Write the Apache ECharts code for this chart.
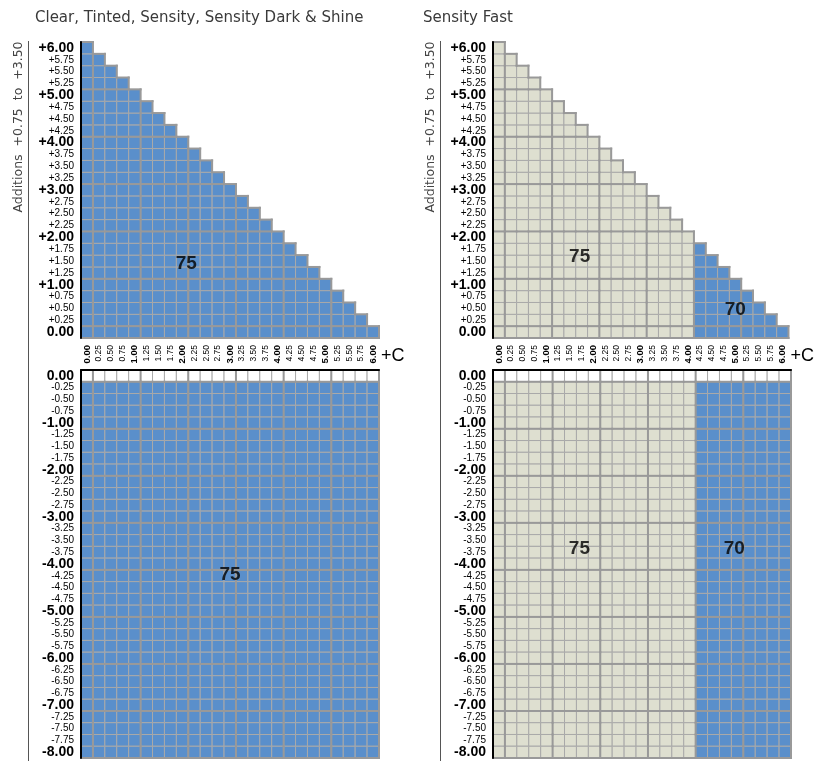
<!DOCTYPE html>
<html><head><meta charset="utf-8">
<script src="https://cdn.jsdelivr.net/npm/echarts@6/dist/echarts.min.js"></script>
<style>html,body{margin:0;padding:0;background:#fff}#c{width:815px;height:761px}</style>
</head><body><div id="c"></div>
<script>
// ---- data ----
const cylinders = ['0.00','0.25','0.50','0.75','1.00','1.25','1.50','1.75','2.00','2.25','2.50','2.75','3.00','3.25','3.50','3.75','4.00','4.25','4.50','4.75','5.00','5.25','5.50','5.75','6.00'];
const upperSpheres = ['0.00','+0.25','+0.50','+0.75','+1.00','+1.25','+1.50','+1.75','+2.00','+2.25','+2.50','+2.75','+3.00','+3.25','+3.50','+3.75','+4.00','+4.25','+4.50','+4.75','+5.00','+5.25','+5.50','+5.75','+6.00'];
const lowerSpheres = ['0.00','-0.25','-0.50','-0.75','-1.00','-1.25','-1.50','-1.75','-2.00','-2.25','-2.50','-2.75','-3.00','-3.25','-3.50','-3.75','-4.00','-4.25','-4.50','-4.75','-5.00','-5.25','-5.50','-5.75','-6.00','-6.25','-6.50','-6.75','-7.00','-7.25','-7.50','-7.75','-8.00'];
// number of cylinder cells available in each upper sphere row (staircase)
const upperRowCells = [25,24,23,22,21,20,19,18,17,16,15,14,13,12,11,10,9,8,7,6,5,4,3,2,1];
// lower rows: 0.00 row is drawn empty, all others full width
const lowerRowCells = [25,25,25,25,25,25,25,25,25,25,25,25,25,25,25,25,25,25,25,25,25,25,25,25,25,25,25,25,25,25,25,25,25];
const lowerEmptyRows = ['0.00'];
// diameter by cylinder column
const leftDiameter  = [75,75,75,75,75,75,75,75,75,75,75,75,75,75,75,75,75,75,75,75,75,75,75,75,75];
const rightDiameter = [75,75,75,75,75,75,75,75,75,75,75,75,75,75,75,75,75,70,70,70,70,70,70,70,70];
const leftTitle = 'Clear, Tinted, Sensity, Sensity Dark & Shine';
const rightTitle = 'Sensity Fast';
const additionsText = 'Additions  +0.75  to  +3.50';
// diameter annotations: [cylinder, sphere, text]
const leftUpperNotes  = [['2.00','+1.50','75']];
const leftLowerNotes  = [['3.00','-4.25','75']];
const rightUpperNotes = [['1.75','+1.75','75'],['5.00','+0.50','70']];
const rightLowerNotes = [['1.75','-3.75','75'],['5.00','-3.75','70']];

// ---- styles ----
const BLUE = '#5a8fcb', BEIGE = '#dedfd0';
const leftColors = {75: BLUE};
const rightColors = {75: BEIGE, 70: BLUE};
const LAB = '"Liberation Sans",Arial,sans-serif';
const isInt = s => /\.00$/.test(s);

function buildUpper(diam){
  const out = [];
  upperSpheres.forEach((s, j) => {
    const n = upperRowCells[j];
    for (let i = 0; i < n; i++) {
      const above = j + 1 < upperSpheres.length && i < upperRowCells[j + 1];
      const top = isInt(s) || !above ? 1 : 0;
      const right = isInt(cylinders[i]) || i === n - 1 ? 1 : 0;
      const bottom = j === 0 ? 1 : 0;
      out.push([i, j, diam[i], top, right, bottom]);
    }
  });
  return out;
}
function buildLower(diam){
  const out = [];
  lowerSpheres.forEach((s, j) => {
    const n = lowerRowCells[j];
    const empty = lowerEmptyRows.indexOf(s) >= 0;
    for (let i = 0; i < n; i++) {
      const bottom = isInt(s) || j === lowerSpheres.length - 1 ? 1 : 0;
      const right = isInt(cylinders[i]) || i === n - 1 ? 1 : 0;
      out.push([i, j, empty ? 0 : diam[i], 0, right, bottom]);
    }
  });
  return out;
}

function cellRender(colors){
  return function(params, api){
    const p = api.coord([api.value(0), api.value(1)]);
    const s = api.size([1, 1]);
    const v = api.value(2);
    return {type:'rect', shape:{x:p[0]-s[0]/2, y:p[1]-s[1]/2, width:s[0], height:s[1]},
      style:{fill: colors[v] || '#ffffff', stroke:'#a9a9a9', lineWidth:1}};
  };
}
function edgeRender(params, api){
  const p = api.coord([api.value(0), api.value(1)]);
  const s = api.size([1, 1]);
  const x0 = p[0]-s[0]/2, x1 = p[0]+s[0]/2, y0 = p[1]-s[1]/2, y1 = p[1]+s[1]/2;
  const st = {stroke:'#999999', lineWidth:2};
  const ch = [];
  if (api.value(3)) ch.push({type:'line', shape:{x1:x0-1, y1:y0, x2:x1+1, y2:y0}, style:st});
  if (api.value(4)) ch.push({type:'line', shape:{x1:x1, y1:y0-1, x2:x1, y2:y1+1}, style:st});
  if (api.value(5)) ch.push({type:'line', shape:{x1:x0-1, y1:y1, x2:x1+1, y2:y1}, style:st});
  return {type:'group', children:ch};
}

function yLabel(big, small){
  return {interval:0, margin:7, formatter: v => isInt(v) ? '{b|'+v+'}' : '{s|'+v+'}',
    rich:{b:{fontFamily:LAB, fontWeight:'bold', fontSize:big, color:'#000'},
          s:{fontFamily:LAB, fontSize:small, color:'#000'}}};
}

const grids = [], xAxes = [], yAxes = [], series = [];
function panel(left, diam, colors, upNotes, lowNotes, upOff, lowOff){
  const gU = grids.length;
  grids.push({left:left, top:42, width:298, height:296});
  grids.push({left:left, top:370, width:298, height:388});
  xAxes.push({type:'category', gridIndex:gU, data:cylinders, position:'bottom',
    axisLine:{show:false}, axisTick:{show:false}, splitLine:{show:false},
    axisLabel:{interval:0, rotate:90, margin:7,
      formatter: v => isInt(v) ? '{b|'+v+'}' : '{s|'+v+'}',
      rich:{b:{fontFamily:LAB, fontWeight:'bold', fontSize:9.5, color:'#000'},
            s:{fontFamily:LAB, fontSize:8.5, color:'#000'}}},
    name:'+C', nameLocation:'end', nameGap:2,
    nameTextStyle:{fontFamily:LAB, fontSize:18, color:'#000', verticalAlign:'top', padding:[9,0,0,0]}});
  xAxes.push({type:'category', gridIndex:gU+1, data:cylinders, position:'top', z:10,
    axisLine:{show:true, onZero:false, lineStyle:{color:'#000', width:2}}, axisTick:{show:false},
    axisLabel:{show:false}, splitLine:{show:false}});
  yAxes.push({type:'category', gridIndex:gU, data:upperSpheres, z:10,
    axisLine:{show:true, lineStyle:{color:'#000', width:2}}, axisTick:{show:false},
    axisLabel:yLabel(14, 10), splitLine:{show:false}});
  yAxes.push({type:'category', gridIndex:gU+1, data:lowerSpheres, inverse:true, z:10,
    axisLine:{show:true, lineStyle:{color:'#000', width:2}}, axisTick:{show:false},
    axisLabel:yLabel(14, 10), splitLine:{show:false}});
  const up = buildUpper(diam), low = buildLower(diam);
  [[gU, up], [gU+1, low]].forEach(([g, d]) => {
    series.push({type:'custom', xAxisIndex:g, yAxisIndex:g, data:d, z:2, silent:true,
      encode:{x:0, y:1}, renderItem:cellRender(colors)});
    series.push({type:'custom', xAxisIndex:g, yAxisIndex:g, data:d, z:3, silent:true,
      encode:{x:0, y:1}, renderItem:edgeRender});
  });
  const noteLabel = off => ({show:true, position:'inside', offset:off, formatter: p => p.value[2],
    fontFamily:LAB, fontWeight:'bold', fontSize:19, color:'#000'});
  series.push({type:'scatter', xAxisIndex:gU, yAxisIndex:gU, symbolSize:0, z:5, silent:true,
    data:upNotes.map((n, k) => ({value:[n[0], n[1], n[2]], label:noteLabel(upOff[k])}))});
  series.push({type:'scatter', xAxisIndex:gU+1, yAxisIndex:gU+1, symbolSize:0, z:5, silent:true,
    data:lowNotes.map((n, k) => ({value:[n[0], n[1], n[2]], label:noteLabel(lowOff[k])}))});
}
panel(81, leftDiameter, leftColors, leftUpperNotes, leftLowerNotes, [[4,3]], [[0,-1]]);
panel(493, rightDiameter, rightColors, rightUpperNotes, rightLowerNotes, [[-2,8],[0,1]], [[-3,-3],[-3,-3]]);

const titleStyle = {fontFamily:'"DejaVu Sans",sans-serif', fontWeight:'normal', fontSize:15, color:'#3a3a3a'};
const chart = echarts.init(document.getElementById('c'), null, {renderer:'canvas'});
chart.setOption({
  animation:false,
  backgroundColor:'#fff',
  title:[{text:leftTitle, left:30, top:6, textStyle:titleStyle},
         {text:rightTitle, left:418, top:6, textStyle:titleStyle}],
  grid:grids, xAxis:xAxes, yAxis:yAxes, series:series,
  graphic:[
    {type:'line', shape:{x1:28.5, y1:41, x2:28.5, y2:761}, style:{stroke:'#555', lineWidth:1}},
    {type:'line', shape:{x1:440.5, y1:41, x2:440.5, y2:761}, style:{stroke:'#555', lineWidth:1}},
    {type:'text', x:19, y:127, rotation:Math.PI/2, style:{text:additionsText, font:'12.5px "DejaVu Sans",sans-serif', fill:'#444', align:'center', verticalAlign:'middle'}},
    {type:'text', x:431, y:127, rotation:Math.PI/2, style:{text:additionsText, font:'12.5px "DejaVu Sans",sans-serif', fill:'#444', align:'center', verticalAlign:'middle'}}
  ]
});
</script></body></html>
